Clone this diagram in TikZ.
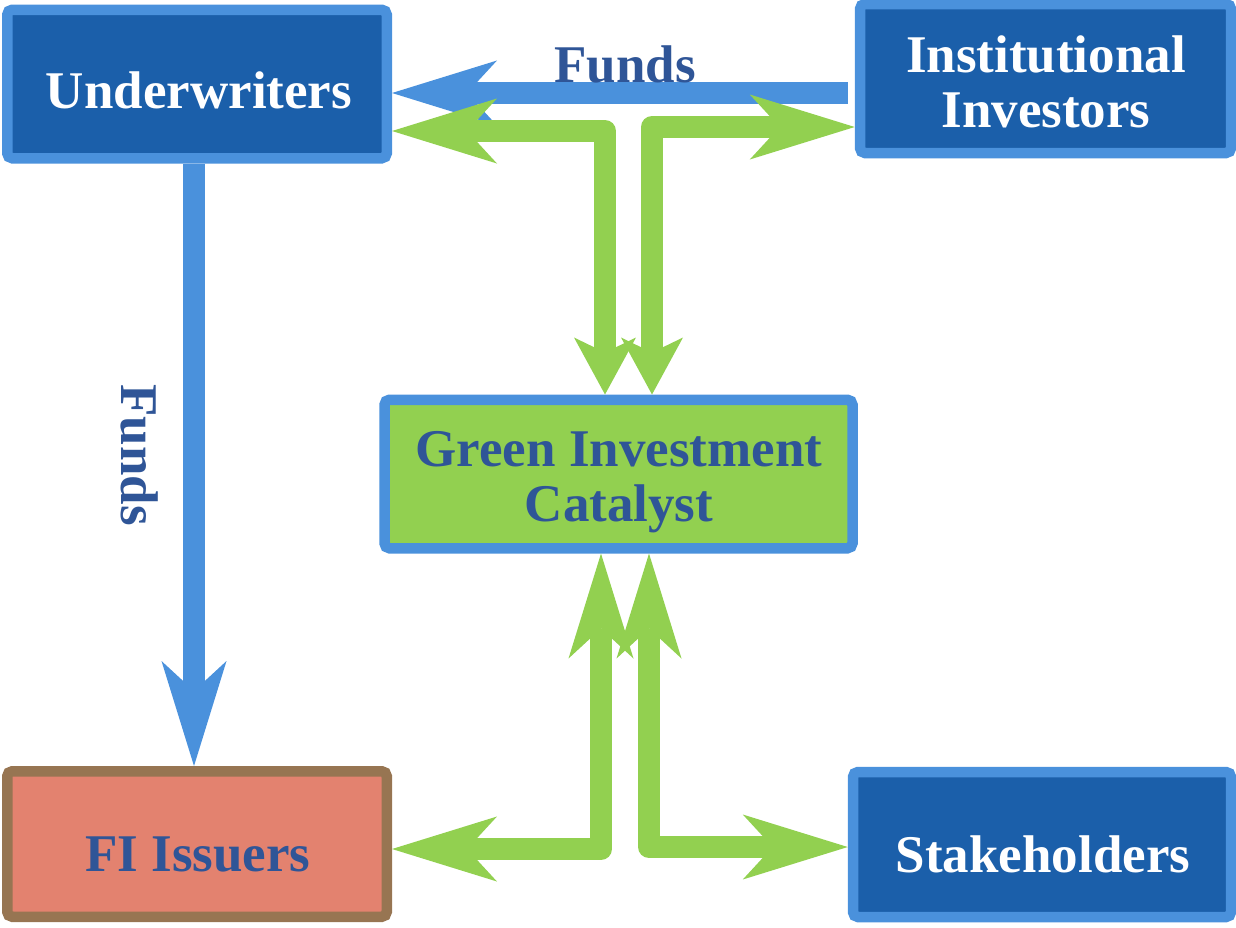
\documentclass[tikz,border=0pt]{standalone}
\usepackage{fontspec}
\setmainfont{Liberation Serif}
\usetikzlibrary{arrows.meta}
\definecolor{edgeblue}{HTML}{4A91DC}
\definecolor{deepblue}{HTML}{1B5FAA}
\definecolor{leaf}{HTML}{92D050}
\definecolor{inkblue}{HTML}{2F5597}
\definecolor{salmon}{HTML}{E3826F}
\definecolor{bark}{HTML}{977552}
\tikzset{
  box/.style={draw, line width=10.5pt, rounded corners=5pt, inner sep=0pt},
  darkbox/.style={box, draw=edgeblue, fill=deepblue},
  boxtext/.style={font=\bfseries\fontsize{53}{55}\selectfont, align=center, inner sep=0pt},
  bigtip/.tip={Stealth[length=105pt, width=65pt, inset=30pt, line width=0pt]},
  shorttip/.tip={Stealth[length=57pt, width=62pt, inset=15pt, line width=0pt]},
  bluearrow/.style={draw=edgeblue, line width=22pt, -{bigtip}},
  greenarrow/.style={draw=leaf, line width=22pt, line join=round, {bigtip}-{bigtip}},
}
\begin{document}
\begin{tikzpicture}[x=1pt, y=-1pt]
  \useasboundingbox (0,0) rectangle (1236,927);

  % boxes
  \node[darkbox, minimum width=379.5pt, minimum height=148.5pt] (uw) at (197,84) {};
  \node[darkbox, minimum width=371pt, minimum height=149pt] (inv) at (1045.5,78.5) {};
  \node[box, draw=edgeblue, fill=leaf, minimum width=468pt, minimum height=148.5pt] (gic) at (618.5,474) {};
  \node[box, draw=bark, fill=salmon, minimum width=379.5pt, minimum height=145.5pt] (fi) at (197,844) {};
  \node[darkbox, minimum width=378pt, minimum height=145pt] (sh) at (1042,844.5) {};

  % box texts
  \node[boxtext, text=white] (uwt) at (199,90) {Underwriters};
  \node[boxtext, text=white] (invt) at (1046,81.5) {Institutional\\Investors};
  \node[boxtext, text=inkblue] (gict) at (619,482) {Green Investment\\Catalyst};
  \node[boxtext, text=inkblue] (fit) at (198,854) {FI Issuers};
  \node[boxtext, text=white] (sht) at (1043,854) {Stakeholders};

  % fund flows
  \draw[bluearrow, shorten <=7pt] (inv.west |- 0,93) -- (uw.east |- 0,93);
  \draw[bluearrow] (uw.south -| 194,0) -- (fi.north -| 194,0);
  \node[boxtext, text=inkblue, anchor=base] (fundsh) at (625,82) {Funds};
  \node[boxtext, text=inkblue, anchor=base, rotate=-90] (fundsv) at (121,455) {Funds};

  % corner points of the two-way links
  \coordinate (ctl) at (605,131);
  \coordinate (ctr) at (652,127);
  \coordinate (cbl) at (601,849);
  \coordinate (cbr) at (649,847);

  % two-way links through the catalyst
  \draw[greenarrow, {shorttip}-{bigtip}] (gic.north -| ctl) -- (ctl) -- (uw.east |- ctl);
  \draw[greenarrow, {shorttip}-{bigtip}] (gic.north -| ctr) -- (ctr) -- (inv.west |- ctr);
  \draw[greenarrow] (gic.south -| cbl) -- (cbl) -- (fi.east |- cbl);
  \draw[greenarrow] (gic.south -| cbr) -- (cbr) -- (sh.west |- cbr);
\end{tikzpicture}
\end{document}
